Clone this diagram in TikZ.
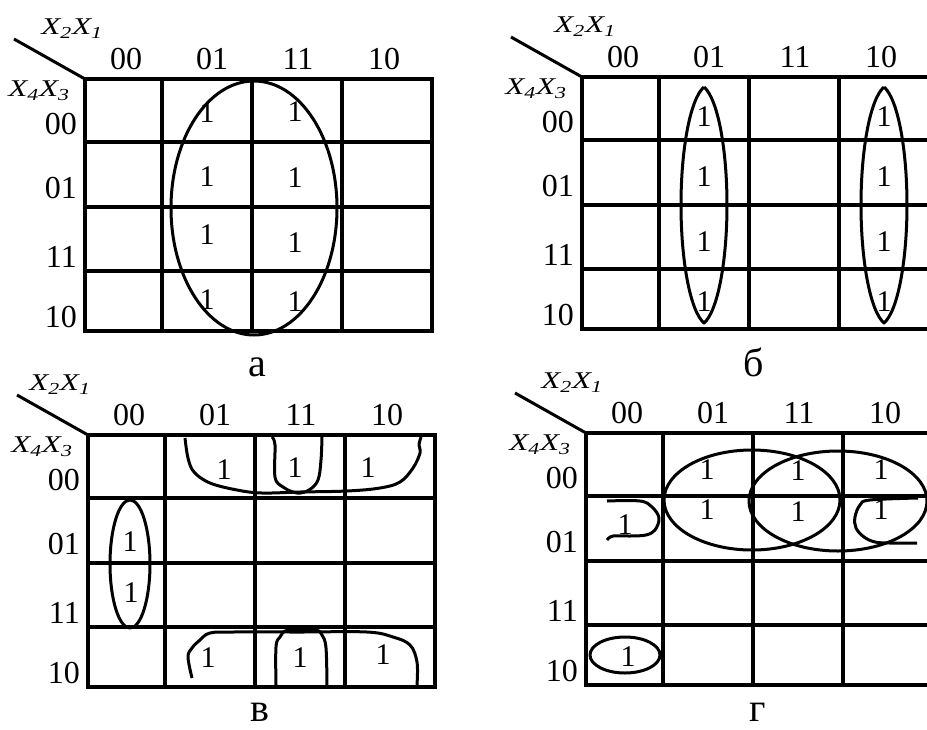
\documentclass[tikz,border=0pt]{standalone}
\usepackage{fontspec}
\usepackage{graphicx}
\setmainfont{Liberation Serif}
\usetikzlibrary{calc}
\newcommand{\xpair}[2]{\scalebox{1.3}[1]{\itshape X\textsubscript{#1}X\textsubscript{#2}}}

\begin{document}
\begin{tikzpicture}[
    x=1pt, y=-1pt,
    grid/.style={line width=3.6pt, line cap=rect},
    diag/.style={line width=3pt},
    loop/.style={line width=3pt, line join=round},
    one/.style={font=\fontsize{30}{30}\selectfont, inner sep=0pt},
    axis/.style={font=\fontsize{32}{32}\selectfont, inner sep=0pt},
    var/.style={font=\fontsize{24}{24}\selectfont, inner sep=0pt},
    figlabel/.style={inner sep=0pt},
]

\useasboundingbox (0,0) rectangle (927,729);
\clip (0,0) rectangle (927,729);

% --- The four grids with their headers ---
\foreach \m/\ox/\oy/\vx/\ly/\lab/\fs in {a/85/79/-13/288/а/40, b/582/77/3/285/б/40,
                                         v/88/435/-28/277/в/40, g/586/433/-14/279/г/40} {
    \coordinate (\m) at (\ox,\oy);
    \foreach \cx in {0,77,167,257,347}
        \draw[grid] ($(\m)+(\cx,0)$) -- ++(0,252);
    \foreach \ry in {0,63,128,192,252}
        \draw[grid] ($(\m)+(0,\ry)$) -- ++(347,0);
    \draw[diag] (\m) -- ++(-71,-40);
    \node[var] (\m-top) at ($(\m)+(\vx,-50)$) {\xpair{2}{1}};
    \node[var] (\m-side) at ($(\m)+(-46,12)$) {\xpair{4}{3}};
    \foreach \t/\cx [count=\i] in {00/41, 01/127, 11/213, 10/299}
        \node[axis] (\m-col\i) at ($(\m)+(\cx,-20)$) {\t};
    \foreach \t/\ry [count=\i] in {00/45, 01/109, 11/178, 10/238}
        \node[axis, anchor=east] (\m-row\i) at ($(\m)+(-8,\ry)$) {\t};
    \node[figlabel, font=\fontsize{\fs}{\fs}\selectfont] (\m-name)
        at ($(\m)+(172,\ly)$) {\lab};
}

% --- Ones ---
\foreach \n/\x/\y in {a1/207/113, a2/295/112, a3/207/177, a4/295/178,
                      a5/207/235, a6/295/243, a7/207/300, a8/295/302,
                      b1/704/117, b2/884/117, b3/704/177, b4/884/177,
                      b5/704/242, b6/884/242, b7/704/302, b8/884/302,
                      v1/224/470, v2/295/468, v3/368/468, v4/130/542,
                      v5/131/593, v6/208/658, v7/300/658, v8/383/655,
                      g1/707/470, g2/798/471, g3/881/470, g4/707/510,
                      g5/798/512, g6/881/510, g7/625/525, g8/628/657}
    \node[one] (\n) at (\x,\y) {1};

% --- Map a: one big group ---
\draw[loop] (254,208) ellipse [x radius=83, y radius=127];

% --- Map b: two columns ---
\foreach \cx in {704,884}
    \draw[loop] (\cx,87) .. controls (\cx-14,99) and (\cx-23,150) .. (\cx-23,205)
                .. controls (\cx-23,260) and (\cx-14,311) .. (\cx,323)
                .. controls (\cx+14,311) and (\cx+23,260) .. (\cx+23,205)
                .. controls (\cx+23,150) and (\cx+14,99) .. (\cx,87);

% --- Map v: column 00 and the wrapped rows ---
\draw[loop] (130,564) ellipse [x radius=20, y radius=64];
\draw[loop] plot[smooth, tension=0.6] coordinates {(185,438) (188,458) (194,472)
    (210,483) (237,490) (262,493) (300,492) (347,491) (380,488) (400,482)
    (413,468) (420,453) (419,445) (421,437)};
\draw[loop] plot[smooth, tension=0.6] coordinates {(272,437) (275,445) (275,477)
    (283,487) (297,493) (309,490) (318,480) (321,460) (322,437)};
\draw[loop] plot[smooth, tension=0.6] coordinates {(192,678) (188,657) (192,648)
    (200,640) (210,633) (233,632) (300,632) (367,632) (393,637) (410,645)
    (417,662) (417,685)};
\draw[loop] plot[smooth, tension=0.6] coordinates {(276,685) (276,647) (280,637)
    (288,630) (315,630) (322,635) (326,648) (327,688)};

% --- Map g: overlapping pairs and the edges ---
\draw[loop] (752,500) ellipse [x radius=88, y radius=50];
\draw[loop] (838,501) ellipse [x radius=89, y radius=50];
\draw[loop] (625,655) ellipse [x radius=35, y radius=18];
\draw[loop] plot[smooth, tension=0.6] coordinates {(607,501) (640,501) (652,507)
    (659,518) (655,530) (646,535) (630,536) (613,536) (607,540)};
\draw[loop] plot[smooth, tension=0.6] coordinates {(918,498) (870,500) (860,505)
    (855,517) (856,528) (864,537) (875,542) (890,543) (917,543)};

\end{tikzpicture}
\end{document}
